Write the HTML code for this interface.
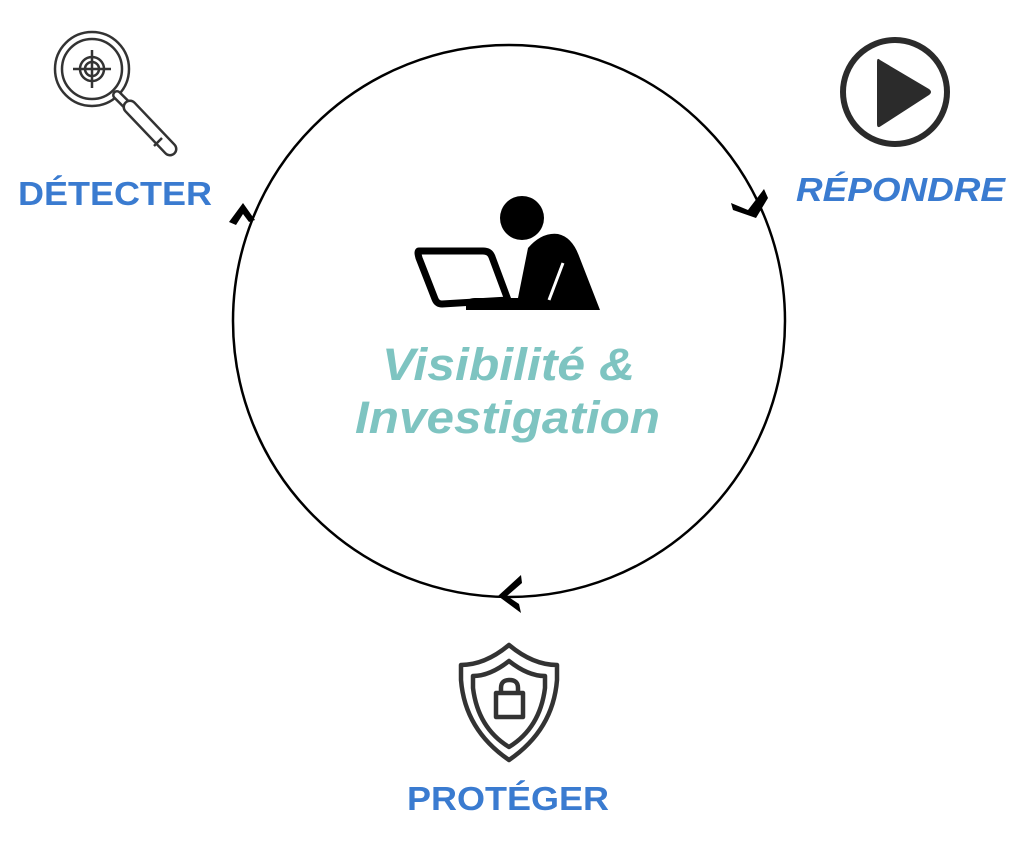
<!DOCTYPE html>
<html><head><meta charset="utf-8"><style>
html,body{margin:0;padding:0;background:#fff;}
svg{display:block;}
</style></head><body>
<svg width="1024" height="841" viewBox="0 0 1024 841" xmlns="http://www.w3.org/2000/svg">
<rect width="1024" height="841" fill="#fff"/>
<circle cx="509" cy="321" r="276" fill="none" stroke="#000" stroke-width="2.5"/>
<path d="M229 222 L243 203 L255 220 L249 222 L243 214 L236 225 Z" fill="#000"/>
<path d="M731 203 L748 210 L764 189 L768 198 L756 218 L733 210 Z" fill="#000"/>
<path d="M521 575 L498 596 L521 613 L519 604 L507 596 L522 583 Z" fill="#000"/>

<!-- magnifier icon -->
<g fill="none" stroke="#333" stroke-width="2.5">
<circle cx="92" cy="69" r="37"/>
<circle cx="92" cy="69" r="30"/>
<circle cx="92" cy="69" r="12"/>
<circle cx="92" cy="69" r="7"/>
<line x1="92" y1="50" x2="92" y2="88"/>
<line x1="73" y1="69" x2="111" y2="69"/>
</g>
<line x1="117" y1="95" x2="132" y2="110" stroke="#333" stroke-width="10" stroke-linecap="round"/>
<line x1="117" y1="95" x2="132" y2="110" stroke="#fff" stroke-width="5" stroke-linecap="round"/>
<line x1="130" y1="107" x2="170" y2="149" stroke="#333" stroke-width="15" stroke-linecap="round"/>
<line x1="130" y1="107" x2="170" y2="149" stroke="#fff" stroke-width="10" stroke-linecap="round"/>
<line x1="162" y1="138" x2="154" y2="146" stroke="#333" stroke-width="2.5"/>

<!-- play icon -->
<circle cx="895" cy="92" r="52" fill="none" stroke="#2b2b2b" stroke-width="6"/>
<path d="M880 60 Q877 57 877 62 L877 124 Q877 129 881 126 L929 95 Q933 92 929 89 Z" fill="#2b2b2b"/>

<!-- person at laptop -->
<circle cx="522" cy="218" r="22" fill="#000"/>
<path d="M419 251 L483 251 Q490 251 492 257 L508 300 L442 304 Q437 304 435 299 L419 258 Q417 251 419 251 Z" fill="none" stroke="#000" stroke-width="7" stroke-linejoin="round"/>
<path d="M528 248 Q542 232 558 234 Q572 237 579 256 L600 310 L466 310 L466 304 Q467 298 475 298 L518 298 Z" fill="#000"/>
<line x1="563" y1="263" x2="549" y2="300" stroke="#fff" stroke-width="3"/>

<!-- shield -->
<g fill="none" stroke="#333" stroke-width="4.5" stroke-linejoin="round">
<path d="M509 645 Q485 665 461 665 L461 680 Q465 730 509 760 Q553 730 557 680 L557 665 Q533 665 509 645 Z"/>
<path d="M509 661 Q490 676 473 676 L473 688 Q478 728 509 747 Q540 728 545 688 L545 676 Q528 676 509 661 Z"/>
<rect x="496" y="693" width="27" height="24"/>
<path d="M501 693 L501 688 Q501 680 509.5 680 Q518 680 518 688 L518 693"/>
</g>

<g font-family="Liberation Sans, sans-serif" font-weight="bold" fill="#3a7bd0">
<text x="18" y="205" font-size="33" textLength="194" lengthAdjust="spacingAndGlyphs">DÉTECTER</text>
<text x="796" y="201" font-size="33" font-style="italic" textLength="209" lengthAdjust="spacingAndGlyphs">RÉPONDRE</text>
<text x="407" y="810" font-size="33" textLength="202" lengthAdjust="spacingAndGlyphs">PROTÉGER</text>
</g>
<g font-family="Liberation Sans, sans-serif" font-weight="bold" font-style="italic" fill="#7ec4c1" font-size="45">
<text x="382" y="380" textLength="253" lengthAdjust="spacingAndGlyphs">Visibilité &amp;</text>
<text x="355" y="433" textLength="305" lengthAdjust="spacingAndGlyphs">Investigation</text>
</g>
</svg>
</body></html>
